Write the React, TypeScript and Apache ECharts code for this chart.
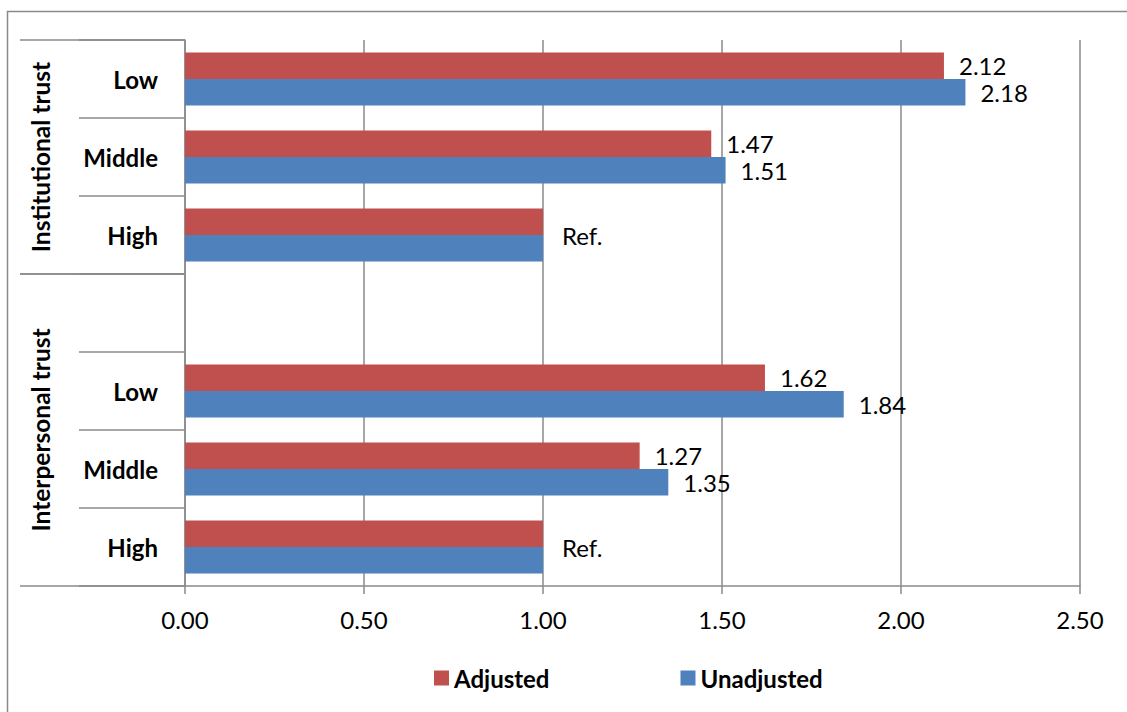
import React, { useEffect, useRef } from "react";
import * as echarts from "echarts";

const categories = ["Low", "Middle", "High", "", "Low", "Middle", "High"];
const groupNames = ["Institutional trust", "Interpersonal trust"];
const groupFirstRow = [0, 3];
const groupLastRow = [2, 6];
const seriesNames = ["Adjusted", "Unadjusted"];
const adjusted = [2.12, 1.47, 1.0, null, 1.62, 1.27, 1.0];
const unadjusted = [2.18, 1.51, 1.0, null, 1.84, 1.35, 1.0];
const referenceRows = [false, false, true, false, false, false, true];
const xMin = 0;
const xMax = 2.5;
const xStep = 0.5;

const FONT = "Lato, 'Open Sans', 'DejaVu Sans', sans-serif";
const GRAY = "#8a8a8a";
const RED = "#C0504D";
const BLUE = "#4F81BD";

export default function App() {
  const ref = useRef<HTMLDivElement>(null);
  useEffect(() => {
    if (!ref.current) return;
    const chart = echarts.init(ref.current, undefined, { renderer: "svg" });
    const ids = categories.map((c, i) => `${i}:${c}`);
    const gridLeft = 185;
    const gridTop = 40;
    const gridBottom = 126;
    const labelStyle = {
      show: true,
      position: "right",
      distance: 15,
      fontFamily: FONT,
      fontSize: 24,
      color: "#000",
      formatter: (p: any) => (p.value == null ? "" : Number(p.value).toFixed(2)),
    };
    const option: any = {
      animation: false,
      grid: { left: gridLeft, right: 47, top: gridTop, bottom: gridBottom, containLabel: false },
      legend: {
        data: seriesNames,
        left: 429,
        top: 661,
        icon: "rect",
        itemWidth: 15,
        itemHeight: 15,
        itemGap: 131,
        textStyle: { fontFamily: FONT, fontSize: 24, fontWeight: "bold", color: "#000", padding: [0, 0, 0, 0] },
      },
      xAxis: {
        type: "value",
        min: xMin,
        max: xMax,
        interval: xStep,
        axisLine: { show: true, lineStyle: { color: GRAY, width: 1.5 } },
        axisTick: { show: true, length: 8, lineStyle: { color: GRAY, width: 1.5 } },
        splitLine: { show: true, lineStyle: { color: GRAY, width: 1.5 } },
        axisLabel: {
          margin: 21,
          fontFamily: FONT,
          fontSize: 24,
          color: "#000",
          formatter: (v: number) => v.toFixed(2),
        },
      },
      yAxis: {
        type: "category",
        data: ids,
        inverse: true,
        axisLine: { show: true, lineStyle: { color: GRAY, width: 1.5 } },
        axisTick: { show: true, length: 106, interval: 0, lineStyle: { color: GRAY, width: 1.5 } },
        axisLabel: {
          margin: 27,
          fontFamily: FONT,
          fontSize: 24,
          fontWeight: "bold",
          color: "#000",
          interval: 0,
          formatter: (v: string) => v.slice(v.indexOf(":") + 1),
        },
      },
      series: [
        {
          name: seriesNames[0],
          type: "bar",
          data: adjusted.map((v, i) => ({
            value: v,
            label: referenceRows[i]
              ? { show: true, formatter: "Ref.", offset: [4, 14] }
              : { show: v != null },
          })),
          itemStyle: { color: RED },
          barGap: "0%",
          barCategoryGap: "32%",
          label: labelStyle,
        },
        {
          name: seriesNames[1],
          type: "bar",
          data: unadjusted.map((v, i) => ({
            value: v,
            label: { show: !referenceRows[i] && v != null },
          })),
          itemStyle: { color: BLUE },
          barGap: "0%",
          barCategoryGap: "32%",
          label: labelStyle,
        },
      ],
    };
    chart.setOption(option);

    const c0 = chart.convertToPixel({ yAxisIndex: 0 }, ids[0]) as number;
    const c1 = chart.convertToPixel({ yAxisIndex: 0 }, ids[1]) as number;
    const step = c1 - c0;
    const boundary = (row: number) => c0 - step / 2 + row * step;
    const center = (row: number) => c0 + row * step;

    const graphics: any[] = [
      {
        type: "rect",
        shape: { x: 7.5, y: 11.5, width: 1300, height: 900 },
        style: { fill: "none", stroke: GRAY, lineWidth: 1.5 },
        silent: true,
      },
    ];
    groupNames.forEach((name, g) => {
      const yTop = boundary(groupFirstRow[g]);
      const yBot = boundary(groupLastRow[g] + 1);
      [yTop, yBot].forEach((y) => {
        graphics.push({
          type: "line",
          shape: { x1: 20, y1: y, x2: gridLeft, y2: y },
          style: { stroke: GRAY, lineWidth: 1.5 },
          silent: true,
        });
      });
      graphics.push({
        type: "text",
        x: 40,
        y: (center(groupFirstRow[g]) + center(groupLastRow[g])) / 2,
        rotation: Math.PI / 2,
        style: {
          text: name,
          fontFamily: FONT,
          fontSize: 24.5,
          fontWeight: "bold",
          fill: "#000",
          align: "center",
          verticalAlign: "middle",
        },
        silent: true,
      });
    });
    chart.setOption({ graphic: graphics });

    return () => chart.dispose();
  }, []);
  return (
    <div
      ref={ref}
      style={{ position: "fixed", left: 0, top: 0, width: 1127, height: 712, background: "#fff" }}
    />
  );
}
